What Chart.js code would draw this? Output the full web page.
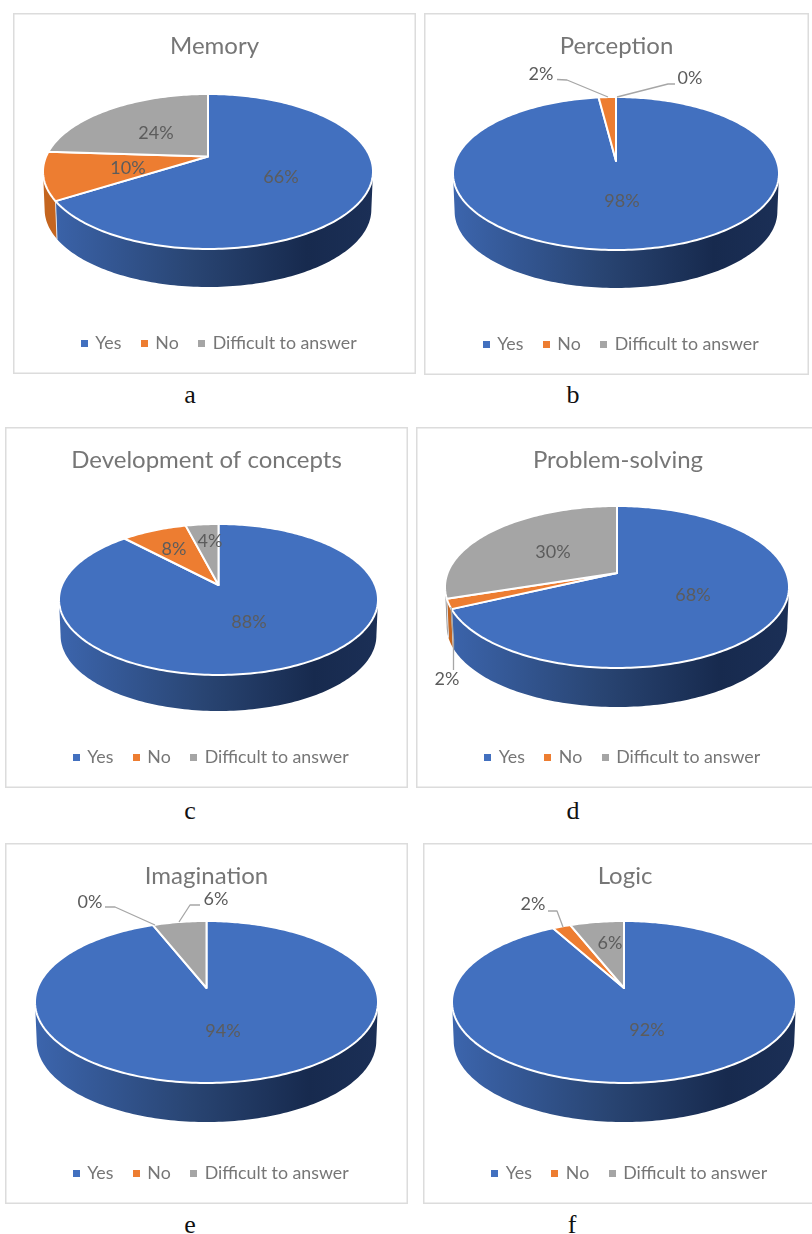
<!DOCTYPE html>
<html>
<head>
<meta charset="utf-8">
<title>Pie charts</title>
<script src="https://cdn.jsdelivr.net/npm/chart.js@4"></script>
<style>
    html, body { margin: 0; padding: 0; background: #fff; }
    body { position: relative; width: 812px; height: 1234px; overflow: hidden; }
    .panel { position: absolute; box-shadow: inset 0 0 0 1.5px #dcdcdc; }
    .panel canvas { position: absolute; left: 0; top: 0; filter: blur(0.4px); }
    .caption {
        position: absolute; width: 40px; height: 30px; line-height: 30px; text-align: center;
        font-family: "Liberation Serif", serif; font-size: 26px; color: #111;
    }
</style>
</head>
<body>
<script>
const categories = ['Yes', 'No', 'Difficult to answer'];
const sliceColors = ['#4270bf', '#ed7d31', '#a5a5a5'];
const wallColors = [null, '#c4651f', '#858585'];

const memoryValues = [66, 10, 24];
const perceptionValues = [98, 2, 0];
const conceptsValues = [88, 8, 4];
const problemValues = [68, 2, 30];
const imaginationValues = [94, 0, 6];
const logicValues = [92, 2, 6];

// panel box + outline of the tilted disc, all in page pixels
const panels = [
    { title: 'Memory', values: memoryValues, caption: 'a', capX: 190, capY: 395,
      box: [13, 13, 403, 361], left: 43, right: 373, top: 94, bottom: 249, apexY: 156.5, wallBottom: 287,
      spots: [[281, 177], [128, 168], [156, 133]], leaders: [] },
    { title: 'Perception', values: perceptionValues, caption: 'b', capX: 573, capY: 395,
      box: [424, 13, 385, 362], left: 453, right: 779, top: 97, bottom: 250, apexY: 161, wallBottom: 288,
      spots: [[622, 201], [541, 74], [690, 78]],
      leaders: [[[557, 79.5], [567, 80], [608, 97]], [[675, 84], [668, 84], [617, 97]]] },
    { title: 'Development of concepts', values: conceptsValues, caption: 'c', capX: 190, capY: 811,
      box: [5, 427, 403, 361], left: 59, right: 378, top: 524, bottom: 675, apexY: 585, wallBottom: 711,
      spots: [[249, 622], [174, 549], [210, 541]], leaders: [] },
    { title: 'Problem-solving', values: problemValues, caption: 'd', capX: 573, capY: 811,
      box: [416, 427, 404, 361], left: 445, right: 789, top: 506, bottom: 668, apexY: 573, wallBottom: 707,
      spots: [[693, 595], [447, 679], [553, 552]],
      leaders: [[[453.5, 670], [453.5, 640], [451, 607]]] },
    { title: 'Imagination', values: imaginationValues, caption: 'e', capX: 190, capY: 1225,
      box: [5, 843, 403, 361], left: 35, right: 378, top: 921, bottom: 1083, apexY: 988, wallBottom: 1122,
      spots: [[223, 1031], [90, 902], [216, 899]],
      leaders: [[[105, 907], [115, 907], [155, 925]], [[200, 905], [190, 905], [179, 922]]] },
    { title: 'Logic', values: logicValues, caption: 'f', capX: 572, capY: 1225,
      box: [423, 843, 404, 361], left: 452, right: 796, top: 921, bottom: 1083, apexY: 988, wallBottom: 1122,
      spots: [[647, 1030], [533, 904], [610, 943]],
      leaders: [[[548, 911], [557, 911], [563, 927]]] }
];

// the disc is a circle seen in perspective, so the centre sits above the middle of the ellipse
function makeProjection(p) {
    const ox = p.box[0], oy = p.box[1];
    const cx = (p.left + p.right) / 2 - ox;
    const ay = p.apexY - oy;
    const up = p.apexY - p.top, dn = p.bottom - p.apexY;
    const c = (up - dn) / (up + dn);
    const a = up * (1 - c);
    const d = (p.right - p.left) / 2 * Math.sqrt(1 - c * c);
    return {
        c: c,
        point: function (theta, r) {
            const u = r * Math.sin(theta), v = -r * Math.cos(theta);
            const w = 1 + c * v;
            return [cx + d * u / w, ay + a * v / w];
        }
    };
}

function sampleAngles(a0, a1) {
    const n = Math.max(2, Math.ceil((a1 - a0) / 0.02));
    const out = [];
    for (let i = 0; i <= n; i++) out.push(a0 + (a1 - a0) * i / n);
    return out;
}

function drawWalls(chart, ctx, p, proj) {
    const ox = p.box[0];
    const depth = p.wallBottom - p.bottom;
    const cx = (p.left + p.right) / 2 - ox;
    const thetaR = Math.acos(proj.c), thetaL = 2 * Math.PI - thetaR;
    const grad = ctx.createLinearGradient(p.left - ox, 0, p.right - ox, 0);
    grad.addColorStop(0, '#3c65ad');
    grad.addColorStop(0.45, '#294573');
    grad.addColorStop(0.8, '#172a4e');
    grad.addColorStop(1, '#1b2f56');
    chart.getDatasetMeta(0).data.forEach(function (arc, i) {
        const s = Math.max(arc.startAngle + Math.PI / 2, thetaR);
        const e = Math.min(arc.endAngle + Math.PI / 2, thetaL);
        if (e <= s) return;
        const pts = sampleAngles(s, e).map(t => proj.point(t, 1));
        ctx.beginPath();
        pts.forEach((q, k) => k ? ctx.lineTo(q[0], q[1]) : ctx.moveTo(q[0], q[1]));
        pts.slice().reverse().forEach(function (q) {
            ctx.lineTo(cx + (q[0] - cx) * 0.99, q[1] + depth);
        });
        ctx.closePath();
        ctx.fillStyle = wallColors[i] || grad;
        ctx.fill();
        // thin light seam where two slices meet on the wall
        if (s > thetaR) {
            ctx.beginPath();
            ctx.moveTo(pts[0][0], pts[0][1]);
            ctx.lineTo(cx + (pts[0][0] - cx) * 0.99, pts[0][1] + depth);
            ctx.strokeStyle = '#dfe4ee';
            ctx.lineWidth = 1;
            ctx.stroke();
        }
    });
}

function drawFaces(chart, ctx, proj) {
    const arcs = chart.getDatasetMeta(0).data;
    arcs.forEach(function (arc) {
        if (arc.endAngle - arc.startAngle <= 0) return;
        const pts = sampleAngles(arc.startAngle + Math.PI / 2, arc.endAngle + Math.PI / 2).map(t => proj.point(t, 1));
        const apex = proj.point(0, 0);
        ctx.beginPath();
        ctx.moveTo(apex[0], apex[1]);
        pts.forEach(q => ctx.lineTo(q[0], q[1]));
        ctx.closePath();
        ctx.fillStyle = arc.options.backgroundColor;
        ctx.fill();
        ctx.strokeStyle = '#fff';
        ctx.lineWidth = 2;
        ctx.lineJoin = 'round';
        ctx.stroke();
    });
}

function drawLabels(chart, ctx, p) {
    const ox = p.box[0], oy = p.box[1];
    ctx.strokeStyle = '#a6a6a6';
    ctx.lineWidth = 1.3;
    p.leaders.forEach(function (line) {
        ctx.beginPath();
        line.forEach((q, k) => k ? ctx.lineTo(q[0] - ox, q[1] - oy) : ctx.moveTo(q[0] - ox, q[1] - oy));
        ctx.stroke();
    });
    ctx.font = '18px Lato';
    ctx.fillStyle = '#5c5c5c';
    ctx.textAlign = 'center';
    ctx.textBaseline = 'middle';
    p.values.forEach(function (v, i) {
        ctx.fillText(v + '%', p.spots[i][0] - ox, p.spots[i][1] - oy);
    });
}

// square legend marker; the legend's own rect stretches with pointStyleWidth
function makeMarker(color) {
    const c = document.createElement('canvas');
    c.width = 7;
    c.height = 7;
    const g = c.getContext('2d');
    g.fillStyle = color;
    g.fillRect(0, 0, 7, 7);
    return c;
}
const markers = sliceColors.map(makeMarker);

function legendItems(chart) {
    const items = Chart.overrides.doughnut.plugins.legend.labels.generateLabels(chart);
    items.forEach(function (item, i) { item.pointStyle = markers[i]; });
    return items;
}

const pie3d = {
    id: 'pie3d',
    afterLayout: function (chart) {
        // the original legends sit a little right of centre
        chart.legend.left += 5;
        chart.legend.right += 5;
    },
    beforeDatasetsDraw: function (chart, args, opts) {
        const p = opts.panel;
        const ctx = chart.ctx;
        const proj = makeProjection(p);
        ctx.save();
        drawWalls(chart, ctx, p, proj);
        drawFaces(chart, ctx, proj);
        drawLabels(chart, ctx, p);
        ctx.restore();
        return false;
    }
};

panels.forEach(function (p) {
    const div = document.createElement('div');
    div.className = 'panel';
    div.style.left = p.box[0] + 'px';
    div.style.top = p.box[1] + 'px';
    div.style.width = p.box[2] + 'px';
    div.style.height = p.box[3] + 'px';
    const canvas = document.createElement('canvas');
    canvas.width = p.box[2];
    canvas.height = p.box[3];
    div.appendChild(canvas);
    document.body.appendChild(div);

    const cap = document.createElement('div');
    cap.className = 'caption';
    cap.textContent = p.caption;
    cap.style.left = (p.capX - 20) + 'px';
    cap.style.top = (p.capY - 15) + 'px';
    document.body.appendChild(cap);

    new Chart(canvas.getContext('2d'), {
        type: 'pie',
        data: {
            labels: categories,
            datasets: [{ data: p.values, backgroundColor: sliceColors, borderWidth: 0 }]
        },
        options: {
            responsive: false,
            animation: false,
            layout: { padding: { bottom: 12 } },
            plugins: {
                pie3d: { panel: p },
                tooltip: { enabled: false },
                title: {
                    display: true,
                    text: p.title,
                    color: '#767676',
                    font: { family: 'Lato', size: 24, weight: 'normal' },
                    padding: { top: 18.5, bottom: 0 }
                },
                legend: {
                    position: 'bottom',
                    labels: {
                        color: '#767676',
                        font: { family: 'Lato', size: 17.8 },
                        usePointStyle: true,
                        pointStyleWidth: 4,
                        boxHeight: 7,
                        padding: 21,
                        generateLabels: legendItems
                    }
                }
            }
        },
        plugins: [pie3d]
    });
});
</script>
</body>
</html>
